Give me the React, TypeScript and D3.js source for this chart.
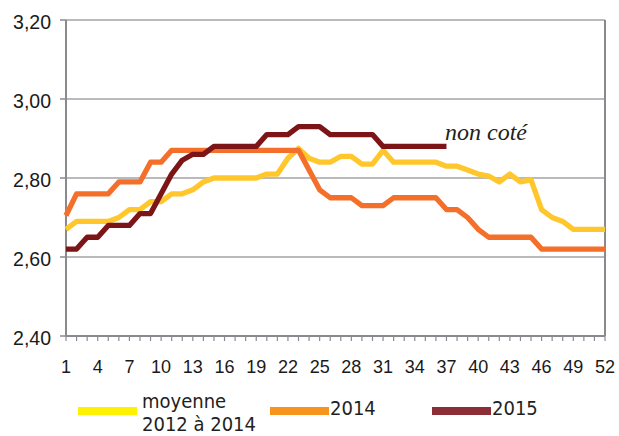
import React from "react";
import * as d3 from "d3";

// weekly prices, weeks 1..52
const weeks = d3.range(1, 53);

const moyenne = [
  2.67, 2.69, 2.69, 2.69, 2.69, 2.70, 2.72, 2.72, 2.74, 2.74,
  2.76, 2.76, 2.77, 2.79, 2.80, 2.80, 2.80, 2.80, 2.80, 2.81,
  2.81, 2.85, 2.875, 2.85, 2.84, 2.84, 2.855, 2.855, 2.835, 2.835,
  2.87, 2.84, 2.84, 2.84, 2.84, 2.84, 2.83, 2.83, 2.82, 2.81,
  2.805, 2.79, 2.81, 2.79, 2.795, 2.72, 2.70, 2.69, 2.67, 2.67,
  2.67, 2.67,
];

const y2014 = [
  2.705, 2.76, 2.76, 2.76, 2.76, 2.79, 2.79, 2.79, 2.84, 2.84,
  2.87, 2.87, 2.87, 2.87, 2.87, 2.87, 2.87, 2.87, 2.87, 2.87,
  2.87, 2.87, 2.87, 2.82, 2.77, 2.75, 2.75, 2.75, 2.73, 2.73,
  2.73, 2.75, 2.75, 2.75, 2.75, 2.75, 2.72, 2.72, 2.70, 2.67,
  2.65, 2.65, 2.65, 2.65, 2.65, 2.62, 2.62, 2.62, 2.62, 2.62,
  2.62, 2.62,
];

const y2015 = [
  2.62, 2.62, 2.65, 2.65, 2.68, 2.68, 2.68, 2.71, 2.71, 2.76,
  2.81, 2.845, 2.86, 2.86, 2.88, 2.88, 2.88, 2.88, 2.88, 2.91,
  2.91, 2.91, 2.93, 2.93, 2.93, 2.91, 2.91, 2.91, 2.91, 2.91,
  2.88, 2.88, 2.88, 2.88, 2.88, 2.88, 2.88,
];

const yTicks = [2.4, 2.6, 2.8, 3.0, 3.2];
const xLabels = d3.range(1, 53, 3);

const seriesNames = ["moyenne|2012 à 2014", "2014", "2015"];
const lineColors = ["#ffc72c", "#f4702a", "#7c1517"];
const legendColors = ["#fff200", "#f7941d", "#8b2e36"];

const fmt = (v: number) => v.toFixed(2).replace(".", ",");

export default function App() {
  const left = 66, right = 605, top = 20, bottom = 336;
  const x = d3.scaleLinear().domain([1, 52]).range([left, right]);
  const y = d3.scaleLinear().domain([2.4, 3.2]).range([bottom, top]);

  const line = d3.line<number>()
    .x((d, i) => x(weeks[i]))
    .y(d => y(d));

  const series = [moyenne, y2014, y2015];
  const legendX = [78, 270, 432];

  return (
    <div style={{ position: "absolute", left: 0, top: 0 }}>
      <svg width={619} height={436} style={{ display: "block" }}>
        <rect width={619} height={436} fill="#fff" />
        {/* gridlines */}
        {yTicks.filter(t => t > 2.4).map(t => (
          <line key={t} x1={left} x2={right} y1={y(t)} y2={y(t)}
            stroke="#a3a3a6" strokeWidth={1.5} />
        ))}
        {/* y ticks + labels */}
        {yTicks.map(t => (
          <g key={"yt" + t}>
            <line x1={left - 6} x2={left} y1={y(t)} y2={y(t)} stroke="#8a8a8e" strokeWidth={1.5} />
            <text x={51} y={y(t) + 8.5} textAnchor="end"
              fontFamily="Liberation Sans, Arial, sans-serif" fontSize={19.5} fill="#1a1a1a">
              {fmt(t)}
            </text>
          </g>
        ))}
        {/* x ticks */}
        {weeks.map(w => (
          <line key={"xt" + w} x1={x(w)} x2={x(w)} y1={bottom} y2={bottom + 5}
            stroke="#8a8a8e" strokeWidth={1.2} />
        ))}
        {xLabels.map(w => (
          <text key={"xl" + w} x={x(w)} y={373} textAnchor="middle"
            fontFamily="Liberation Sans, Arial, sans-serif" fontSize={18} fill="#1a1a1a">
            {w}
          </text>
        ))}
        {/* frame */}
        <line x1={left} x2={right} y1={bottom} y2={bottom} stroke="#8a8a8e" strokeWidth={2} />
        <line x1={left} x2={left} y1={top} y2={bottom} stroke="#8a8a8e" strokeWidth={2} />
        <line x1={right} x2={right} y1={top} y2={bottom} stroke="#8a8a8e" strokeWidth={2} />
        {/* series */}
        {series.map((s, i) => (
          <path key={"s" + i} d={line(s) || ""} fill="none" stroke={lineColors[i]}
            strokeWidth={5.3} strokeLinejoin="round" />
        ))}
        <text x={445} y={140} fontFamily="Liberation Serif, Times New Roman, serif"
          fontStyle="italic" fontSize={24} fill="#222">
          non coté
        </text>
        {/* legend */}
        {seriesNames.map((name, i) => {
          const parts = name.split("|");
          return (
            <g key={"lg" + i}>
              <rect x={legendX[i]} y={407} width={59} height={8} fill={legendColors[i]} />
              {parts.length > 1 ? (
                <text fontFamily="DejaVu Sans Condensed, DejaVu Sans, sans-serif" fontSize={20} fill="#231f20">
                  <tspan x={legendX[i] + 64} y={408}>{parts[0]}</tspan>
                  <tspan x={legendX[i] + 64} y={431}>{parts[1]}</tspan>
                </text>
              ) : (
                <text x={legendX[i] + 60} y={415}
                  fontFamily="DejaVu Sans Condensed, DejaVu Sans, sans-serif" fontSize={20} fill="#231f20">
                  {parts[0]}
                </text>
              )}
            </g>
          );
        })}
      </svg>
    </div>
  );
}
